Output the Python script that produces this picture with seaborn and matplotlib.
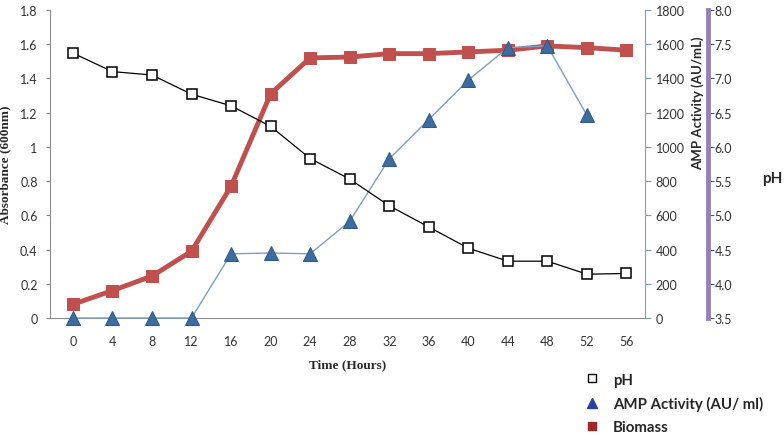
import matplotlib
matplotlib.use("Agg")
import matplotlib.pyplot as plt
from matplotlib.lines import Line2D
import seaborn as sns
import pandas as pd

# values
hours = [0, 4, 8, 12, 16, 20, 24, 28, 32, 36, 40, 44, 48, 52, 56]
biomass = [0.08, 0.16, 0.245, 0.39, 0.77, 1.31, 1.52, 1.525, 1.545, 1.545, 1.555, 1.565, 1.59, 1.58, 1.565]
amp = [0, 0, 0, 0, 375, 380, 375, 565, 930, 1160, 1390, 1580, 1590, 1185]
ph = [7.37, 7.10, 7.05, 6.77, 6.60, 6.30, 5.83, 5.53, 5.14, 4.83, 4.52, 4.33, 4.33, 4.14, 4.15]

df = pd.DataFrame({"hours": hours, "biomass": biomass, "ph": ph})
df_amp = pd.DataFrame({"hours": hours[:len(amp)], "amp": amp})

sns.set_style("white")
plt.rcParams["font.family"] = ["Lato", "DejaVu Sans"]

fig = plt.figure(figsize=(7.84, 4.35), dpi=100)
ax = fig.add_axes([0.064, 0.2667, 0.759, 0.708])
ax2 = ax.twinx()
ax3 = ax.twinx()

red = "#C0504D"
blue = "#3D6C9E"

sns.lineplot(data=df, x="hours", y="biomass", ax=ax, color=red, linewidth=3.5,
             marker="s", markersize=8.5, markeredgecolor=red, clip_on=False)
sns.lineplot(data=df_amp, x="hours", y="amp", ax=ax2, color="#7D9EBF", linewidth=1,
             marker="^", markersize=10, markerfacecolor=blue, markeredgecolor="#2F5A88",
             clip_on=False)
sns.lineplot(data=df, x="hours", y="ph", ax=ax3, color="black", linewidth=0.9,
             marker="s", markersize=7, markerfacecolor="white", markeredgecolor="black",
             markeredgewidth=1.1, clip_on=False)

ax.set_xlim(-2.3, 57.9)
ax.set_ylim(0, 1.8)
ax.set_xticks(hours)
ax.set_yticks([0, 0.2, 0.4, 0.6, 0.8, 1, 1.2, 1.4, 1.6, 1.8])
ax.set_yticklabels(["0", "0.2", "0.4", "0.6", "0.8", "1", "1.2", "1.4", "1.6", "1.8"])
ax.tick_params(axis="both", labelsize=9, colors="#333333")
ax.tick_params(axis="y", left=True, length=3, color="#888888", pad=6)
ax.tick_params(axis="x", bottom=False, pad=9)
ax.set_xlabel("Time (Hours)", family="Liberation Serif", fontweight="bold", fontsize=9.5, labelpad=8)
ax.set_ylabel("Absorbance (600nm)", family="Liberation Serif", fontweight="bold", fontsize=9.5, labelpad=6)
for s in ["top", "right"]:
    ax.spines[s].set_visible(False)
ax.spines["left"].set_color("#8C8C8C")
ax.spines["bottom"].set_color("#8C8C8C")

ax2.set_ylim(0, 1800)
ax2.set_yticks(range(0, 2000, 200))
ax2.tick_params(axis="y", right=True, length=4, color="#7F9DB9", labelsize=9, labelcolor="#333333")
ax2.set_ylabel("AMP Activity (AU/mL)", fontweight="bold", fontsize=9.5, va="center", ha="center")
ax2.yaxis.set_label_coords(1.088, 0.70)
ax2.set_xlabel("")
for s in ["top", "left", "bottom"]:
    ax2.spines[s].set_visible(False)
ax2.spines["right"].set_color("#7F9DB9")

ax3.set_ylim(3.5, 8.0)
ax3.set_yticks([3.5, 4.0, 4.5, 5.0, 5.5, 6.0, 6.5, 7.0, 7.5, 8.0])
ax3.set_yticklabels([f"{v:.1f}" for v in ax3.get_yticks()])
ax3.spines["right"].set_position(("axes", 1.105))
ax3.spines["right"].set_color("#9283B5")
ax3.spines["right"].set_linewidth(3.5)
for s in ["top", "left", "bottom"]:
    ax3.spines[s].set_visible(False)
ax3.tick_params(axis="y", right=True, length=4, width=0.8, color="#555555", labelsize=9,
                labelcolor="#333333", pad=1)
ax3.set_ylabel("pH", fontweight="bold", fontsize=11, rotation=0, va="center", ha="center")
ax3.yaxis.set_label_coords(1.213, 0.455)
ax3.set_xlabel("")

handles = [
    Line2D([], [], linestyle="none", marker="s", markersize=6, markerfacecolor="white",
           markeredgecolor="black"),
    Line2D([], [], linestyle="none", marker="^", markersize=7, markerfacecolor="#2B3F9E",
           markeredgecolor="#2B3F9E"),
    Line2D([], [], linestyle="none", marker="s", markersize=6, markerfacecolor="#A02828",
           markeredgecolor="#A02828"),
]
labels = ["pH", "AMP Activity (AU/ ml)", "Biomass"]
leg = fig.legend(handles, labels, loc="upper left", bbox_to_anchor=(0.728, 0.172),
                 frameon=False, handlelength=1, handletextpad=0.9, labelspacing=0.62,
                 prop={"weight": "bold", "size": 10.8})

fig.savefig("out.png", dpi=100)
